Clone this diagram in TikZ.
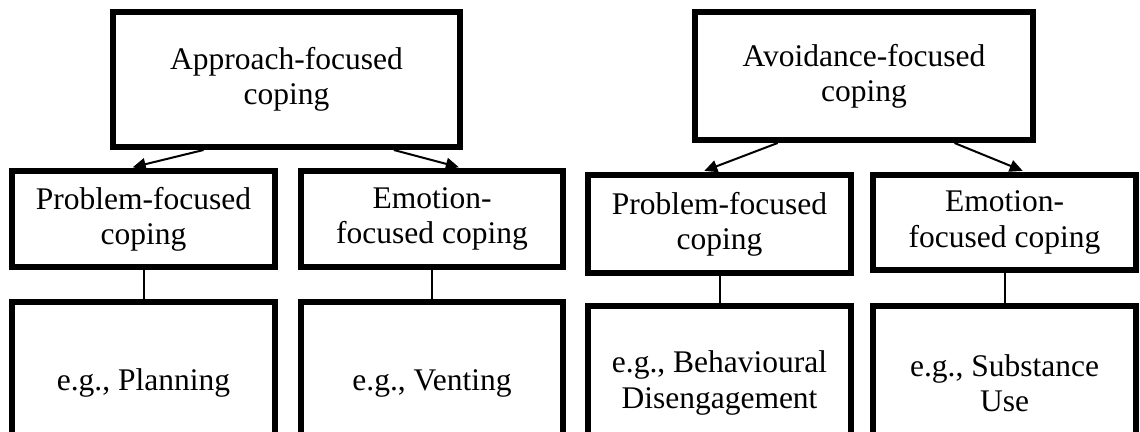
\documentclass[tikz,border=0pt]{standalone}
\usepackage{fontspec}
\setmainfont{Liberation Serif}
\usetikzlibrary{arrows.meta,calc}
\begin{document}
\begin{tikzpicture}[x=0.5pt,y=-0.5pt,
  box/.style={draw, line width=3pt, align=center, inner sep=0pt,
    font=\fontsize{15.75}{17.6}\selectfont},
  link/.style={line width=1pt},
  arrowlink/.style={link, -{Triangle[length=6.5pt,width=6pt]}, shorten >=1.5pt}]
\useasboundingbox (0,0) rectangle (1140,432);
\clip (0,0) rectangle (1140,432);

% top level
\node[box, minimum width=173.5pt, minimum height=67.5pt] (app) at (286.5,79.5) {Approach-focused\\coping};
\node[box, minimum width=169pt, minimum height=64pt] (avo) at (864,76) {Avoidance-focused\\coping};

% second level
\node[box, minimum width=131.5pt, minimum height=48pt] (pl) at (143.5,219) {Problem-focused\\coping};
\node[box, minimum width=131pt, minimum height=48pt] (el) at (432,219) {Emotion-\\focused coping};
\node[box, minimum width=131.5pt, minimum height=49pt] (pr) at (719.5,224) {Problem-focused\\coping};
\node[box, minimum width=131.5pt, minimum height=47.5pt] (er) at (1004.5,222.5) {Emotion-\\focused coping};

% examples
\node[box, minimum width=131.5pt, minimum height=81pt] (bl) at (143.5,383) {e.g., Planning};
\node[box, minimum width=131pt, minimum height=81pt] (bel) at (432,383) {e.g., Venting};
\node[box, minimum width=131.5pt, minimum height=77pt] (br) at (719.5,383) {e.g., Behavioural\\Disengagement};
\node[box, minimum width=131.5pt, minimum height=77pt] (ber) at (1004.5,383) {e.g., Substance\\Use};

% arrows from the main categories
\draw[arrowlink] ($(app.south west)!0.265!(app.south east)$) -- ($(pl.north west)!0.449!(pl.north east)$);
\draw[arrowlink] ($(app.south west)!0.804!(app.south east)$) -- ($(el.north west)!0.611!(el.north east)$);
\draw[arrowlink] ($(avo.south west)!0.249!(avo.south east)$) -- ($(pr.north west)!0.433!(pr.north east)$);
\draw[arrowlink] ($(avo.south west)!0.763!(avo.south east)$) -- ($(er.north west)!0.578!(er.north east)$);

% plain links to the examples
\draw[link] (pl.south) -- (bl.north);
\draw[link] (el.south) -- (bel.north);
\draw[link] (pr.south) -- (br.north);
\draw[link] (er.south) -- (ber.north);
\end{tikzpicture}
\end{document}
